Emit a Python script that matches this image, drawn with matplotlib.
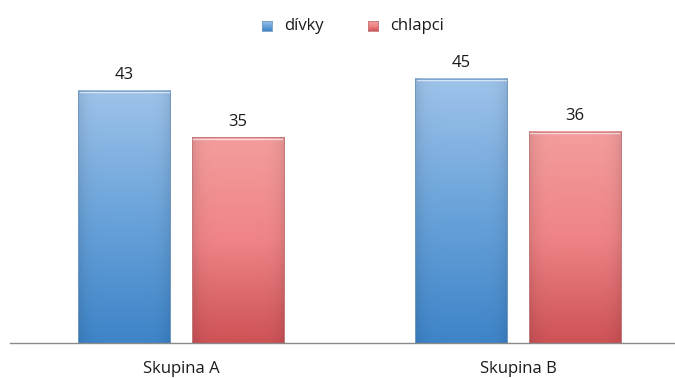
import numpy as np
import matplotlib
matplotlib.use("Agg")
import matplotlib.pyplot as plt
from matplotlib.colors import LinearSegmentedColormap
from matplotlib.patches import Rectangle

plt.rcParams['font.family'] = ['Open Sans', 'DejaVu Sans']

categories = ["Skupina A", "Skupina B"]
series_names = ["dívky", "chlapci"]
divky = [43, 45]
chlapci = [35, 36]

bar_w = 0.273
offset = 0.168

blue_cmap = LinearSegmentedColormap.from_list("blue", ["#3d84c8", "#6aa3da", "#9ec3ea"])
red_cmap = LinearSegmentedColormap.from_list("red", ["#cd5256", "#ef8486", "#f49d9d"])
blue_edge = "#7399c2"
red_edge = "#c27b7d"
text_col = "#1a1a1a"

fig = plt.figure(figsize=(6.75, 3.78), dpi=100)
ax = fig.add_axes([10 / 675, 35 / 378, 665 / 675, 303 / 378])
ax.set_xlim(-0.507, 1.466)
ax.set_ylim(0, 51.6)
ax.axis("off")

grad = np.linspace(0, 1, 256).reshape(-1, 1)
# soft darkening toward the left and right sides of each bar
side = 1 - 0.10 * np.abs(np.linspace(-1, 1, 64)) ** 6


def gradient_bar(xc, h, cmap, edge):
    x0, x1 = xc - bar_w / 2, xc + bar_w / 2
    rgb = cmap(np.linspace(0, 1, 256))[:, None, :3] * side[None, :, None]
    ax.imshow(rgb, origin="lower", aspect="auto",
              extent=(x0, x1, 0, h), interpolation="bicubic", zorder=2)
    ax.add_patch(Rectangle((x0, 0), bar_w, h, fill=False, ec=edge, lw=0.7, zorder=3))
    # light rim along the top edge
    ax.plot([x0 + 0.004, x1 - 0.004], [h - 0.25, h - 0.25], color="white",
            lw=1.0, alpha=0.6, zorder=4)


x = np.arange(len(categories))
for i, xc in enumerate(x):
    gradient_bar(xc - offset, divky[i], blue_cmap, blue_edge)
    gradient_bar(xc + offset, chlapci[i], red_cmap, red_edge)
    ax.text(xc - offset, divky[i] + 1.3, str(divky[i]), ha="center", va="bottom",
            fontsize=12, color=text_col)
    ax.text(xc + offset, chlapci[i] + 1.3, str(chlapci[i]), ha="center", va="bottom",
            fontsize=12, color=text_col)
    ax.text(xc, -3.0, categories[i], ha="center", va="top", fontsize=12, color=text_col)

ax.plot([-0.507, 1.466], [0, 0], color="#8a8a8a", lw=1.0, zorder=5, clip_on=False)


def legend_entry(px, label, cmap, edge):
    lax = fig.add_axes([px / 675, 1 - 31 / 378, 10 / 675, 10 / 378])
    lax.imshow(grad, cmap=cmap, origin="lower", aspect="auto", extent=(0, 1, 0, 1))
    lax.set_xticks([]); lax.set_yticks([])
    for s in lax.spines.values():
        s.set_color(edge); s.set_linewidth(0.6)
    fig.text((px + 22) / 675, 1 - 26 / 378, label, ha="left", va="center",
             fontsize=12, color=text_col)


legend_entry(262, series_names[0], blue_cmap, blue_edge)
legend_entry(368, series_names[1], red_cmap, red_edge)

fig.savefig("out.png", dpi=100)
